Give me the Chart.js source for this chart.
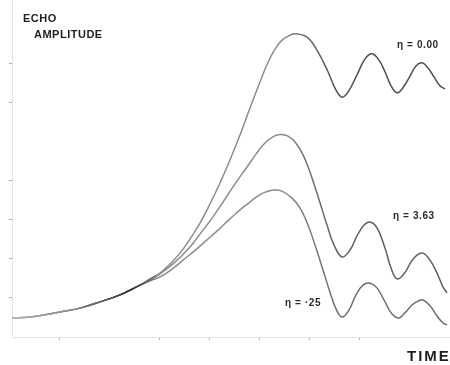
<!DOCTYPE html>
<html>
<head>
<meta charset="utf-8">
<script src="https://cdn.jsdelivr.net/npm/chart.js@4/dist/chart.umd.min.js"></script>
<style>
  html, body { margin: 0; padding: 0; background: #ffffff; }
  #wrap { width: 450px; height: 365px; }
</style>
</head>
<body>
<div id="wrap"><canvas id="echo" width="450" height="365"></canvas></div>
<script>
// Common rise of all three echoes (time, amplitude)
const riseTime = [0.0, 0.4, 1.0, 1.4, 1.8, 2.2, 2.6];
const riseAmp  = [0.49, 0.51, 0.64, 0.74, 0.90, 1.08, 1.33];

// η = 0.00
const eta000Time = [2.8, 3.0, 3.2, 3.4, 3.6, 3.8, 4.0, 4.2, 4.4, 4.6, 4.8, 5.0, 5.2, 5.4, 5.6, 5.76, 5.96, 6.16, 6.36, 6.52, 6.64, 6.76, 6.94, 7.1, 7.24, 7.38, 7.5, 7.62, 7.74, 7.86, 8.0, 8.12, 8.24, 8.36, 8.48, 8.6, 8.7];
const eta000Amp  = [1.49, 1.64, 1.87, 2.15, 2.51, 2.92, 3.41, 3.95, 4.54, 5.18, 5.87, 6.54, 7.15, 7.56, 7.74, 7.77, 7.67, 7.31, 6.80, 6.33, 6.15, 6.28, 6.72, 7.13, 7.26, 7.10, 6.80, 6.44, 6.26, 6.39, 6.69, 6.95, 7.03, 6.90, 6.67, 6.44, 6.36];

// η = 3.63
const eta363Time = [2.8, 3.0, 3.3, 3.6, 3.8, 4.06, 4.26, 4.46, 4.74, 4.92, 5.08, 5.24, 5.4, 5.56, 5.72, 5.88, 6.04, 6.2, 6.34, 6.48, 6.64, 6.8, 6.94, 7.08, 7.2, 7.34, 7.5, 7.62, 7.74, 7.88, 8.02, 8.14, 8.26, 8.4, 8.54, 8.66, 8.74];
const eta363Amp  = [1.46, 1.62, 1.92, 2.31, 2.64, 3.08, 3.46, 3.85, 4.36, 4.69, 4.95, 5.12, 5.19, 5.15, 4.97, 4.62, 4.08, 3.44, 2.87, 2.36, 2.05, 2.23, 2.59, 2.87, 2.95, 2.80, 2.28, 1.77, 1.49, 1.62, 1.92, 2.10, 2.15, 1.97, 1.64, 1.28, 1.13];

// η = ·25
const eta025Time = [2.8, 3.0, 3.24, 3.46, 3.7, 3.94, 4.16, 4.4, 4.6, 4.8, 4.96, 5.12, 5.28, 5.44, 5.64, 5.8, 5.96, 6.12, 6.26, 6.4, 6.52, 6.64, 6.78, 6.92, 7.06, 7.2, 7.34, 7.5, 7.64, 7.78, 7.9, 8.04, 8.16, 8.26, 8.4, 8.54, 8.66, 8.74];
const eta025Amp  = [1.44, 1.54, 1.74, 1.97, 2.22, 2.49, 2.74, 3.03, 3.26, 3.46, 3.62, 3.72, 3.77, 3.74, 3.56, 3.31, 2.87, 2.28, 1.72, 1.15, 0.72, 0.51, 0.69, 1.08, 1.33, 1.38, 1.26, 0.90, 0.59, 0.49, 0.62, 0.82, 0.92, 0.95, 0.80, 0.54, 0.36, 0.31];

// Tick positions along both axes (unlabelled marks)
const timeTicks = [1, 3, 4, 5, 6, 7];
const ampTicks  = [1, 2, 3, 4, 6, 7];

// Curve captions: text and anchor (time, amplitude)
const curveLabels = [
  { text: 'η = 0.00', t: 7.74, a: 7.42 },
  { text: 'η = 3.63', t: 7.66, a: 3.03 },
  { text: 'η = ·25',  t: 5.5,  a: 0.80 }
];

function series(t, a) {
  const pts = [];
  riseTime.forEach((x, i) => pts.push({ x: x, y: riseAmp[i] }));
  t.forEach((x, i) => pts.push({ x: x, y: a[i] }));
  return pts;
}

// Ink varies along the trace: pale at the start, heavy through the
// shared rise, lighter up the separate slopes, darker in the ringing.
function inkGradient(dark) {
  return function (context) {
    const chart = context.chart;
    const area = chart.chartArea;
    if (!area) return dark;
    const g = chart.ctx.createLinearGradient(area.left, 0, area.right, 0);
    g.addColorStop(0.00, '#b0b0b0');
    g.addColorStop(0.14, '#8a8a8a');
    g.addColorStop(0.27, '#2e2e2e');
    g.addColorStop(0.34, '#8c8c8c');
    g.addColorStop(0.60, '#8c8c8c');
    g.addColorStop(0.74, dark);
    g.addColorStop(1.00, dark);
    return g;
  };
}

const lineStyle = {
  borderWidth: 1.5,
  pointRadius: 0,
  fill: false,
  tension: 0.4
};

const captions = {
  id: 'captions',
  afterDraw(chart) {
    const ctx = chart.ctx;
    const xs = chart.scales.x, ys = chart.scales.y;
    ctx.save();
    ctx.fillStyle = '#1e1e1e';
    ctx.textBaseline = 'alphabetic';
    ctx.textAlign = 'left';
    ctx.font = 'bold 11px "Liberation Sans", Arial, sans-serif';
    ctx.letterSpacing = '0.5px';
    ctx.fillText('ECHO', 23, 22);
    ctx.fillText('AMPLITUDE', 34, 38);

    ctx.font = 'bold 15px "Liberation Sans", Arial, sans-serif';
    ctx.letterSpacing = '2px';
    ctx.fillText('TIME', 407, 361);

    ctx.font = 'bold 10px "Liberation Sans", Arial, sans-serif';
    ctx.letterSpacing = '0.6px';
    ctx.fillStyle = '#2a2a2a';
    curveLabels.forEach(l => {
      ctx.fillText(l.text, xs.getPixelForValue(l.t), ys.getPixelForValue(l.a));
    });
    ctx.restore();
  }
};

new Chart(document.getElementById('echo'), {
  type: 'line',
  data: {
    datasets: [
      Object.assign({ label: 'η = 0.00', data: series(eta000Time, eta000Amp), borderColor: inkGradient('#4e4e4e') }, lineStyle),
      Object.assign({ label: 'η = 3.63', data: series(eta363Time, eta363Amp), borderColor: inkGradient('#5e5e5e') }, lineStyle),
      Object.assign({ label: 'η = ·25',  data: series(eta025Time, eta025Amp), borderColor: inkGradient('#6e6e6e') }, lineStyle)
    ]
  },
  options: {
    responsive: false,
    animation: false,
    layout: { padding: 0 },
    plugins: { legend: { display: false }, tooltip: { enabled: false } },
    scales: {
      x: {
        type: 'linear',
        min: 0.04,
        max: 8.8,
        afterBuildTicks(scale) { scale.ticks = timeTicks.map(v => ({ value: v })); },
        afterFit(scale) { scale.height = 28; },
        ticks: { display: false },
        grid: { drawOnChartArea: false, drawTicks: true, tickLength: 3, color: '#aaaaaa' },
        border: { display: true, color: '#e2e2e2', width: 1 }
      },
      y: {
        type: 'linear',
        min: 0,
        max: 8.641,
        afterBuildTicks(scale) { scale.ticks = ampTicks.map(v => ({ value: v })); },
        afterFit(scale) { scale.width = 12; },
        ticks: { display: false },
        grid: { drawOnChartArea: false, drawTicks: true, tickLength: 3, color: '#aaaaaa' },
        border: { display: true, color: '#e6e6e6', width: 1 }
      }
    }
  },
  plugins: [captions]
});
</script>
</body>
</html>
